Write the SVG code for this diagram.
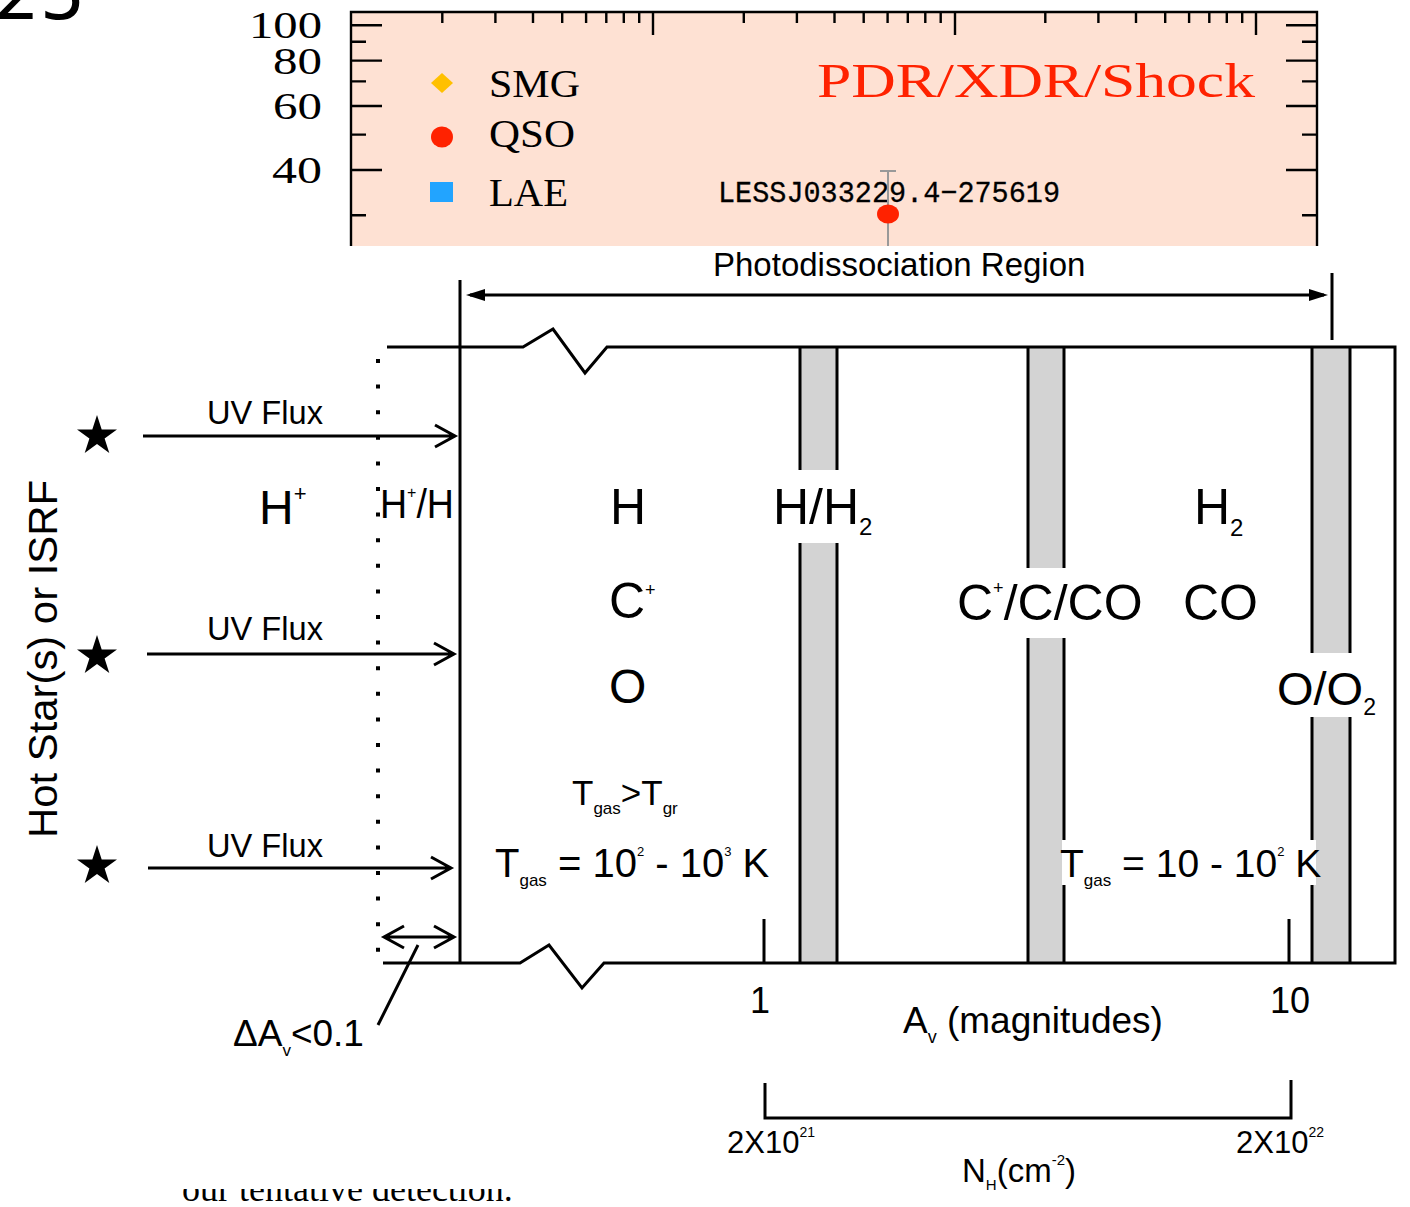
<svg xmlns="http://www.w3.org/2000/svg" width="1410" height="1207" viewBox="0 0 1410 1207">
<defs>
<style>
.sans{font-family:"Liberation Sans",Arial,sans-serif;fill:#000}
.serif{font-family:"Liberation Serif","Times New Roman",serif;fill:#000}
.mono{font-family:"Liberation Mono","Courier New",monospace}
.ln{stroke:#000;stroke-width:3;fill:none}
.tk{stroke:#000;stroke-width:2.4;fill:none}
.band{fill:#d3d3d3;stroke:none}
</style>
<clipPath id="bottomclip"><rect x="0" y="1189" width="1410" height="30"/></clipPath>
<polygon id="star" points="0,-21 4.7,-6.5 20,-6.5 7.6,2.5 12.3,17 0,8 -12.3,17 -7.6,2.5 -20,-6.5 -4.7,-6.5" fill="#000"/>
</defs>
<rect width="1410" height="1207" fill="#fff"/>

<!-- partially hidden page text -->
<text class="serif" x="182" y="1201" font-size="36" clip-path="url(#bottomclip)">our tentative detection.</text>
<text x="-6" y="19" font-family="DejaVu Sans,sans-serif" font-size="72" fill="#000">25</text>

<!-- top plot panel -->
<g id="plot-panel">
<rect x="351" y="12" width="966" height="234" fill="#fee1d3"/>
<path class="tk" d="M351,246V12H1317V246"/>
<path class="tk" d="M653,12v23M955,12v23M1256,12v23
M442.3,12v11M495.4,12v11M533,12v11M562.2,12v11M586.1,12v11M606.3,12v11M623.8,12v11M639.2,12v11
M743.8,12v11M796.9,12v11M834.5,12v11M863.7,12v11M887.6,12v11M907.8,12v11M925.3,12v11M940.7,12v11
M1045.3,12v11M1098.4,12v11M1136,12v11M1165.2,12v11M1189.1,12v11M1209.3,12v11M1226.8,12v11M1242.2,12v11
M351,25.3h31M351,60.6h31M351,106h31M351,170h31M351,41.7h15M351,81.4h15M351,134.6h15M351,215.3h15
M1317,25.3h-31M1317,60.6h-31M1317,106h-31M1317,170h-31M1317,41.7h-15M1317,81.4h-15M1317,134.6h-15M1317,215.3h-15"/>
<g class="serif" font-size="38" text-anchor="end">
<text x="322" y="38" textLength="73" lengthAdjust="spacingAndGlyphs">100</text>
<text x="322" y="74" textLength="49" lengthAdjust="spacingAndGlyphs">80</text>
<text x="322" y="119" textLength="49" lengthAdjust="spacingAndGlyphs">60</text>
<text x="322" y="183" textLength="50" lengthAdjust="spacingAndGlyphs">40</text>
</g>
</g>
<g id="legend">
<polygon points="442,73 453,83 442,93 431,83" fill="#ffc000"/>
<ellipse cx="442" cy="137" rx="11" ry="10.5" fill="#ff2200"/>
<rect x="430" y="182" width="23" height="20" fill="#22a4ff"/>
<g class="serif" font-size="39">
<text x="489" y="97" textLength="91" lengthAdjust="spacingAndGlyphs">SMG</text>
<text x="489" y="147" textLength="86" lengthAdjust="spacingAndGlyphs">QSO</text>
<text x="489" y="206" textLength="79" lengthAdjust="spacingAndGlyphs">LAE</text>
</g>
</g>
<g id="plot-labels">
<text class="serif" x="817" y="97" font-size="48" style="fill:#ff2200" textLength="438" lengthAdjust="spacingAndGlyphs">PDR/XDR/Shock</text>
<text class="mono" x="718" y="202" font-size="30" fill="#000" stroke="#000" stroke-width="0.3" textLength="342" lengthAdjust="spacingAndGlyphs">LESSJ033229.4−275619</text>
</g>
<g id="data-point">
<path d="M888,171V246M880,171h16" stroke="#999" stroke-width="2" fill="none"/>
<ellipse cx="888" cy="214" rx="11" ry="9.5" fill="#ff2200"/>
</g>

<!-- PDR figure (white image overlay) -->
<rect x="0" y="246" width="1410" height="943" fill="#fff"/>

<g id="pdr-box">
<rect class="band" x="800" y="347" width="37" height="123"/>
<rect class="band" x="800" y="543" width="37" height="420"/>
<rect class="band" x="1028" y="347" width="36" height="221"/>
<rect class="band" x="1028" y="638" width="36" height="325"/>
<rect class="band" x="1312" y="347" width="38" height="306"/>
<rect class="band" x="1312" y="717" width="38" height="246"/>
<path class="ln" d="M800,347V470M837,347V470M800,543V963M837,543V963
M1028,347V568M1064,347V568M1028,638V963M1064,638V963
M1312,347V653M1350,347V653M1312,717V963M1350,717V963"/>
<polyline class="ln" points="387,347 523,347 553,329 585,373 607,347 1395,347 1395,963 604,963 582,988 549,945 520,963 383,963"/>
<path class="ln" d="M460,280V963M764,919V963M1289,919V963"/>
</g>

<g id="connectors">
<path class="ln" d="M1332,273V340"/>
<path class="ln" d="M470,295H1324"/>
<polygon points="466,295 485,289 485,301" fill="#000"/>
<polygon points="1328,295 1309,289 1309,301" fill="#000"/>
<path d="M378,359V955" stroke="#000" stroke-width="4" stroke-dasharray="4 21.6" fill="none"/>
<path class="ln" d="M143,436H454M435,425l20,11l-20,11"/>
<path class="ln" d="M147,654H453M434,643l20,11l-20,11"/>
<path class="ln" d="M148,868H450M431,857l20,11l-20,11"/>
<path class="ln" d="M384,937H454M404,926l-20,11l20,11M434,926l20,11l-20,11"/>
<path class="ln" d="M378,1025L418,945"/>
<polyline class="ln" stroke-width="3.5" points="765,1083 765,1118 1291,1118 1291,1080"/>
</g>

<g id="stars">
<use href="#star" x="97" y="436"/>
<use href="#star" x="97" y="656"/>
<use href="#star" x="97" y="866"/>
</g>

<g id="labels" class="sans">
<text x="713" y="276" font-size="33">Photodissociation Region</text>
<text x="207" y="424" font-size="34" textLength="116" lengthAdjust="spacingAndGlyphs">UV Flux</text>
<text x="207" y="640" font-size="34" textLength="116" lengthAdjust="spacingAndGlyphs">UV Flux</text>
<text x="207" y="857" font-size="34" textLength="116" lengthAdjust="spacingAndGlyphs">UV Flux</text>
<text transform="translate(57,659) rotate(-90)" text-anchor="middle" font-size="40" textLength="358" lengthAdjust="spacingAndGlyphs">Hot Star(s) or ISRF</text>

<text x="259" y="524" font-size="48">H<tspan font-size="22" dy="-23">+</tspan></text>
<text x="380" y="518" font-size="40" textLength="74" lengthAdjust="spacingAndGlyphs">H<tspan font-size="17" dy="-20">+</tspan><tspan dy="20">/H</tspan></text>

<text x="610" y="524" font-size="50">H</text>
<text x="609" y="618" font-size="50">C<tspan font-size="18" dy="-22">+</tspan></text>
<text x="609" y="703" font-size="48">O</text>
<text x="773" y="524" font-size="50">H/H<tspan font-size="24" dy="11">2</tspan></text>
<text x="1194" y="524" font-size="50">H<tspan font-size="24" dy="12">2</tspan></text>
<text x="957" y="620" font-size="50">C<tspan font-size="18" dy="-26">+</tspan><tspan dy="26">/C/CO</tspan></text>
<text x="1183" y="620" font-size="50">CO</text>
<text x="1277" y="705" font-size="47">O/O<tspan font-size="23" dy="10">2</tspan></text>

<text x="572" y="805" font-size="35">T<tspan font-size="17" dy="9">gas</tspan><tspan dy="-9">&gt;T</tspan><tspan font-size="17" dy="9">gr</tspan></text>
<text x="495" y="877" font-size="40">T<tspan font-size="17" dy="9">gas</tspan><tspan dy="-9"> = 10</tspan><tspan font-size="13" dy="-21">2</tspan><tspan dy="21"> - 10</tspan><tspan font-size="13" dy="-21">3</tspan><tspan dy="21"> K</tspan></text>
<rect x="1062" y="840" width="254" height="45" fill="#fff"/>
<text x="1060" y="877" font-size="39">T<tspan font-size="17" dy="9">gas</tspan><tspan dy="-9"> = 10 - 10</tspan><tspan font-size="13" dy="-21">2</tspan><tspan dy="21"> K</tspan></text>

<text x="760" y="1013" font-size="36" text-anchor="middle">1</text>
<text x="1290" y="1013" font-size="36" text-anchor="middle">10</text>
<text x="903" y="1033" font-size="37">A<tspan font-size="18" dy="10">v</tspan><tspan dy="-10"> (magnitudes)</tspan></text>
<text x="233" y="1046" font-size="37">ΔA<tspan font-size="17" dy="10">v</tspan><tspan dy="-10">&lt;0.1</tspan></text>

<text x="727" y="1153" font-size="31">2X10<tspan font-size="14" dy="-16">21</tspan></text>
<text x="1236" y="1153" font-size="31">2X10<tspan font-size="14" dy="-16">22</tspan></text>
<text x="962" y="1182" font-size="33">N<tspan font-size="15" dy="8">H</tspan><tspan dy="-8">(cm</tspan><tspan font-size="15" dy="-17">-2</tspan><tspan dy="17">)</tspan></text>
</g>
</svg>
